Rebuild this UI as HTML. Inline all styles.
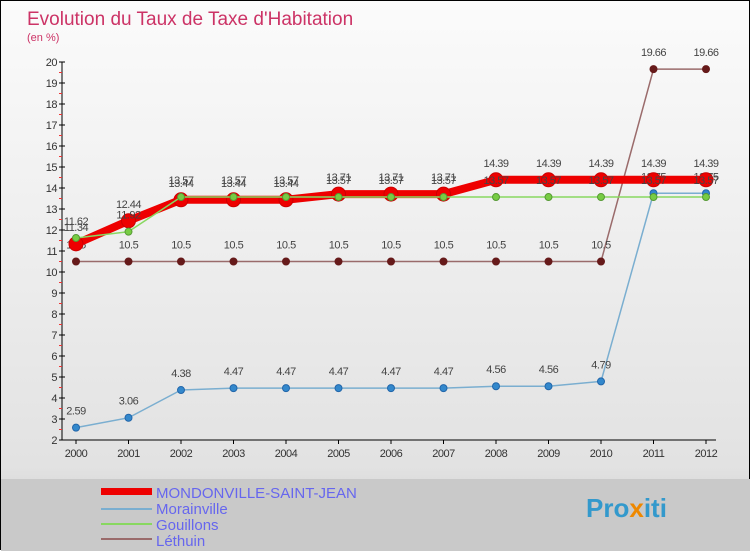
<!DOCTYPE html>
<html><head><meta charset="utf-8"><style>
body{margin:0;width:750px;height:550px;overflow:hidden;font-family:"Liberation Sans",sans-serif}
#wrap{position:relative;width:748px;height:548px;border:1px solid #000;background:linear-gradient(#fbfbfb,#e2e2e2 85%,#c8c8c8)}
svg{position:absolute;left:0;top:0}
</style></head><body>
<div id="wrap">
<svg id="c" width="750" height="550">
<rect x="0" y="478" width="750" height="72" fill="#c9c9c9"/>
<text x="26" y="24" font-size="19" fill="#cc3366">Evolution du Taux de Taxe d'Habitation</text>
<text x="26" y="40" font-size="11" fill="#cc3366">(en %)</text>
<g id="axes"></g><g id="series"></g>
<g>
<rect x="100" y="487" width="51" height="7" fill="#e00"/>
<text x="155" y="497" font-size="15" fill="#6666ee">MONDONVILLE-SAINT-JEAN</text>
<rect x="100" y="507" width="51" height="2" fill="#7aaed0"/>
<text x="155" y="513" font-size="15" fill="#6666ee">Morainville</text>
<rect x="100" y="522" width="51" height="2" fill="#88d860"/>
<text x="155" y="529" font-size="15" fill="#6666ee">Gouillons</text>
<rect x="100" y="537" width="51" height="2" fill="#9a6b6b"/>
<text x="155" y="545" font-size="15" fill="#6666ee">Léthuin</text>
</g>
<text x="585" y="516" font-size="26" font-weight="bold" fill="#3399cc">Pro<tspan fill="#ee8800">x</tspan>iti</text>
</svg></div>
<script>
const years=[2000,2001,2002,2003,2004,2005,2006,2007,2008,2009,2010,2011,2012];
const yTicks=[2,3,4,5,6,7,8,9,10,11,12,13,14,15,16,17,18,19,20];
const mondonville=[11.34,12.44,13.44,13.44,13.44,13.71,13.71,13.71,14.39,14.39,14.39,14.39,14.39];
const morainville=[2.59,3.06,4.38,4.47,4.47,4.47,4.47,4.47,4.56,4.56,4.79,13.75,13.75];
const gouillons=[11.62,11.92,13.57,13.57,13.57,13.57,13.57,13.57,13.57,13.57,13.57,13.57,13.57];
const lethuin=[10.5,10.5,10.5,10.5,10.5,10.5,10.5,10.5,10.5,10.5,10.5,19.66,19.66];
const NS="http://www.w3.org/2000/svg";
const x=i=>75+i*52.5, y=v=>271-(v-10)*21;
function mk(p,t,a){const e=document.createElementNS(NS,t);for(const k in a)e.setAttribute(k,a[k]);p.appendChild(e);return e;}
const ax=document.getElementById('axes');
const yl=mk(ax,'line',{x1:61,y1:y(20),x2:61,y2:y(2),stroke:'#000'});


const xl=mk(ax,'line',{x1:61,y1:y(2),x2:715,y2:y(2),stroke:'#000'});


yTicks.forEach(v=>{
 mk(ax,'line',{x1:58,y1:y(v),x2:64,y2:y(v),stroke:'#000'});
 if(v>yTicks[0]) mk(ax,'line',{x1:58,y1:y(v)+10.5,x2:61,y2:y(v)+10.5,stroke:'#e33'});
 const t=mk(ax,'text',{x:56,y:y(v)+4,'font-size':11,'text-anchor':'end',fill:'#333','letter-spacing':'-0.5'});
 t.textContent=v;
 
 
});
years.forEach((yr,i)=>{
 mk(ax,'line',{x1:x(i),y1:y(2),x2:x(i),y2:y(2)+4,stroke:'#000'});
 const t=mk(ax,'text',{x:x(i),y:y(2)+17,'font-size':11,'text-anchor':'middle',fill:'#333','letter-spacing':'-0.5'});
 t.textContent=yr;
 
 
});
const sg=document.getElementById('series');
function series(d,name,col,w,r,dot,dotStroke){
 const g=mk(sg,'g',{});
 
 
 const pl=mk(g,'polyline',{points:d.map((v,i)=>x(i)+','+y(v)).join(' '),fill:'none',stroke:col,'stroke-width':w,'stroke-linejoin':'round'});
 
 
 d.forEach((v,i)=>{
  const c=mk(g,'circle',{cx:x(i),cy:y(v),r:r,fill:dot,stroke:dotStroke,'stroke-width':1});
  
  
  const t=mk(g,'text',{x:x(i),y:y(v)-13,'font-size':11,'text-anchor':'middle',fill:'#444','letter-spacing':'-0.5'});
  t.textContent=String(v);
  
  
 });
}
series(lethuin,'lethuin','#9a6b6b',1.5,3.5,'#661a1a','#661a1a');
series(morainville,'morainville','#7aaed0',1.5,3.5,'#3388cc','#2266aa');
series(mondonville,'mondonville','#ee0000',8,7,'#ee0000','#cc0000');
series(gouillons,'gouillons','#88d860',1.5,3.5,'#77cc44','#559933');
</script>
</body></html>
